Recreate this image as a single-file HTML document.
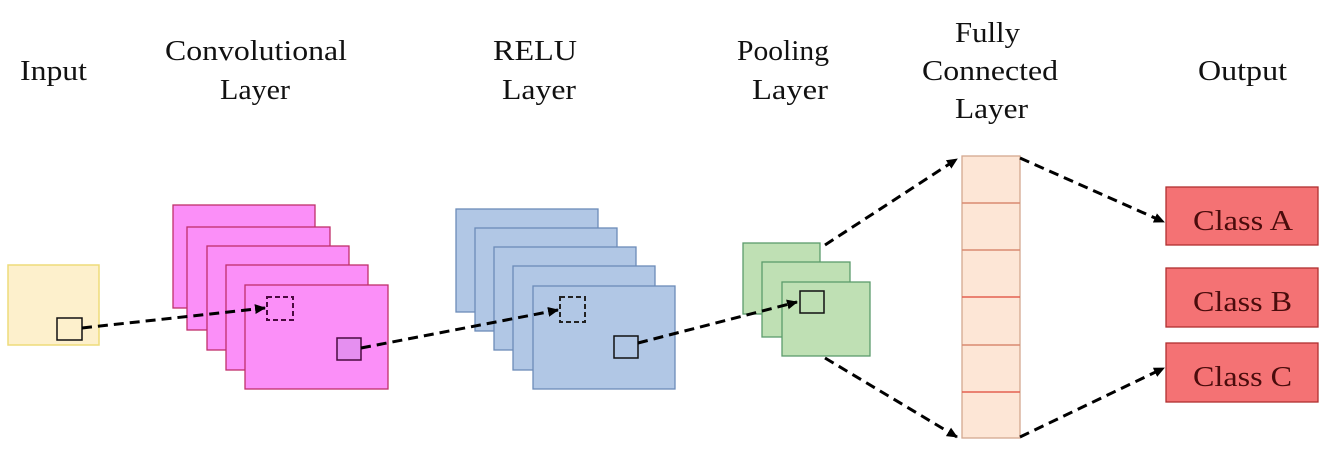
<!DOCTYPE html>
<html><head><meta charset="utf-8"><style>html,body{margin:0;padding:0;background:#fff}svg{display:block}svg text{font-family:"Liberation Serif","Times New Roman",serif}</style></head>
<body>
<svg width="1320" height="450" viewBox="0 0 1320 450" xmlns="http://www.w3.org/2000/svg" font-size="29" fill="#111">
<defs>
<marker id="ah" markerWidth="12" markerHeight="12" refX="10" refY="6" orient="auto" markerUnits="userSpaceOnUse"><path d="M0,1 L11,6 L0,11 z" fill="#000"/></marker>
</defs>
<text x="20" y="80" textLength="67" lengthAdjust="spacingAndGlyphs">Input</text>
<text x="165" y="60" textLength="182" lengthAdjust="spacingAndGlyphs">Convolutional</text>
<text x="220" y="99" textLength="70" lengthAdjust="spacingAndGlyphs">Layer</text>
<text x="493" y="60" textLength="84" lengthAdjust="spacingAndGlyphs">RELU</text>
<text x="502" y="99" textLength="74" lengthAdjust="spacingAndGlyphs">Layer</text>
<text x="737" y="60" textLength="92" lengthAdjust="spacingAndGlyphs">Pooling</text>
<text x="752" y="99" textLength="76" lengthAdjust="spacingAndGlyphs">Layer</text>
<text x="955" y="42" textLength="65" lengthAdjust="spacingAndGlyphs">Fully</text>
<text x="922" y="80" textLength="136" lengthAdjust="spacingAndGlyphs">Connected</text>
<text x="955" y="118" textLength="73" lengthAdjust="spacingAndGlyphs">Layer</text>
<text x="1198" y="80" textLength="89" lengthAdjust="spacingAndGlyphs">Output</text>

<rect x="8" y="265" width="91" height="80" fill="#fdf0cc" stroke="#eedc7a" stroke-width="1.5"/>
<rect x="57" y="318" width="25" height="22" fill="#fdf0cc" stroke="#111" stroke-width="1.5"/>

<g fill="#fb8ff8" stroke="#c0306a" stroke-width="1.3">
<rect x="173" y="205" width="142" height="103"/>
<rect x="187" y="227" width="143" height="103"/>
<rect x="207" y="246" width="142" height="104"/>
<rect x="226" y="265" width="142" height="105"/>
<rect x="245" y="285" width="143" height="104"/>
</g>
<rect x="267" y="297" width="26" height="23" fill="none" stroke="#4a0a40" stroke-width="2" stroke-dasharray="5,3"/>
<rect x="337" y="338" width="24" height="22" fill="#e58ff0" stroke="#4a0a40" stroke-width="1.5"/>

<g fill="#b1c7e5" stroke="#6c8cb8" stroke-width="1.3">
<rect x="456" y="209" width="142" height="103"/>
<rect x="475" y="228" width="142" height="103"/>
<rect x="494" y="247" width="142" height="103"/>
<rect x="513" y="266" width="142" height="104"/>
<rect x="533" y="286" width="142" height="103"/>
</g>
<rect x="560" y="297" width="25" height="25" fill="none" stroke="#222" stroke-width="2" stroke-dasharray="5,3"/>
<rect x="614" y="336" width="24" height="22" fill="none" stroke="#111" stroke-width="1.5"/>

<g fill="#bfe0b4" stroke="#5c9c6c" stroke-width="1.3">
<rect x="743" y="243" width="77" height="71"/>
<rect x="762" y="262" width="88" height="75"/>
<rect x="782" y="282" width="88" height="74"/>
</g>
<rect x="800" y="291" width="24" height="22" fill="#bfe0b4" stroke="#111" stroke-width="1.5"/>

<rect x="962" y="156" width="58" height="282" fill="#fde6d6" stroke="#d4a890" stroke-width="1.3"/>
<g stroke="#d98a70" stroke-width="1.5">
<line x1="962" y1="203" x2="1020" y2="203"/>
<line x1="962" y1="250" x2="1020" y2="250"/>
<line x1="962" y1="297" x2="1020" y2="297" stroke="#e46050"/>
<line x1="962" y1="345" x2="1020" y2="345"/>
<line x1="962" y1="392" x2="1020" y2="392" stroke="#e46050"/>
</g>

<g fill="#f47274" stroke="#b03030" stroke-width="1.3">
<rect x="1166" y="187" width="152" height="58"/>
<rect x="1166" y="268" width="152" height="59"/>
<rect x="1166" y="343" width="152" height="59"/>
</g>
<g fill="#4a0c0c" font-size="28">
<text x="1193" y="230" textLength="100" lengthAdjust="spacingAndGlyphs">Class A</text>
<text x="1193" y="311" textLength="99" lengthAdjust="spacingAndGlyphs">Class B</text>
<text x="1193" y="386" textLength="99" lengthAdjust="spacingAndGlyphs">Class C</text>
</g>

<g stroke="#000" stroke-width="3" stroke-dasharray="10,6" fill="none" marker-end="url(#ah)">
<line x1="82" y1="328" x2="265" y2="308"/>
<line x1="361" y1="348" x2="558" y2="310"/>
<line x1="638" y1="343" x2="797" y2="302"/>
<line x1="825" y1="245" x2="957" y2="159"/>
<line x1="825" y1="358" x2="957" y2="437"/>
<line x1="1020" y1="158" x2="1164" y2="222"/>
<line x1="1020" y1="437" x2="1164" y2="368"/>
</g>
</svg>
</body></html>
